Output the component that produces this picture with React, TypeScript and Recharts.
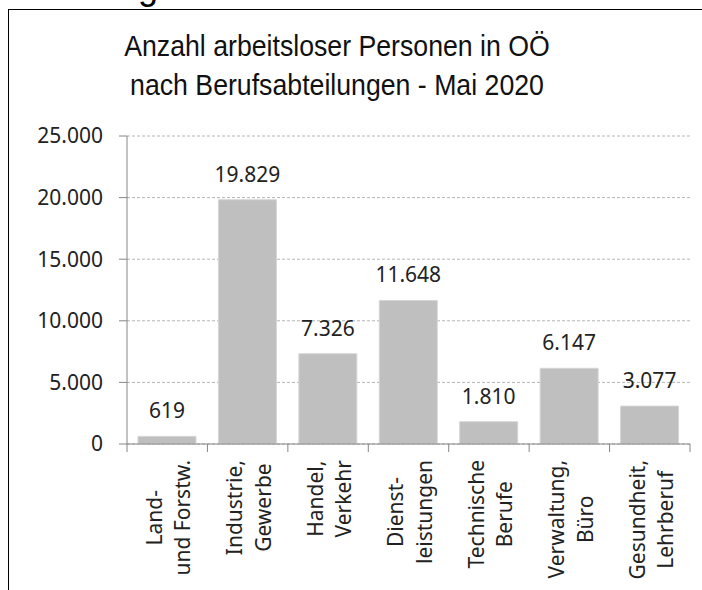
import React from 'react';
import { BarChart, Bar, XAxis, YAxis, CartesianGrid, LabelList } from 'recharts';

const categories = [
  'Land-\nund Forstw.',
  'Industrie,\nGewerbe',
  'Handel,\nVerkehr',
  'Dienst-\nleistungen',
  'Technische\nBerufe',
  'Verwaltung,\nBüro',
  'Gesundheit,\nLehrberuf',
];
const values = [619, 19829, 7326, 11648, 1810, 6147, 3077];
const yTicks = [0, 5000, 10000, 15000, 20000, 25000];
const titleLines = ['Anzahl arbeitsloser Personen in OÖ', 'nach Berufsabteilungen - Mai 2020'];

const data = categories.map((c, i) => ({ name: c, value: values[i] }));

const W = 702;
const H = 590;
const M = { top: 136, right: 12, bottom: 6, left: 47 };
const Y_AXIS_W = 80;
const X_AXIS_H = 140;
const PLOT_W = W - M.left - Y_AXIS_W - M.right;

const FONT = "'Noto Sans', sans-serif";
const TITLE_FONT = "'Liberation Sans', sans-serif";
const TXT = '#222';
const AXIS = '#868686';

const fmt = (v: any) => String(v).replace(/\B(?=(\d{3})+(?!\d))/g, '.');

let ctx: CanvasRenderingContext2D | null = null;
function measure(t: string): number {
  if (!ctx) ctx = document.createElement('canvas').getContext('2d');
  if (!ctx) return t.length * 11;
  ctx.font = "21px 'Noto Sans'";
  return ctx.measureText(t).width;
}

const XTick = (props: any) => {
  const { x, y, payload } = props;
  const index = props.index ?? payload.index ?? 0;
  const half = PLOT_W / categories.length / 2;
  const lines = String(payload.value).split('\n');
  const maxW = Math.max(...lines.map(measure));
  const cy = y + 16 + maxW / 2;
  return (
    <g>
      <line x1={x - half} x2={x - half} y1={y} y2={y + 8} stroke={AXIS} />
      {index === categories.length - 1 && (
        <line x1={x + half} x2={x + half} y1={y} y2={y + 8} stroke={AXIS} />
      )}
      <g transform={`translate(${x},${cy}) rotate(-90)`}>
        {lines.map((l, i) => (
          <text
            key={i}
            x={0}
            y={(i - (lines.length - 1) / 2) * 28.5 + 9}
            textAnchor="middle"
            fontSize={21}
            fontFamily={FONT}
            fill={TXT}
          >
            {l}
          </text>
        ))}
      </g>
    </g>
  );
};

export default function App() {
  return (
    <div style={{ position: 'relative', width: W, height: H, overflow: 'hidden', background: '#fff' }}>
      <style>{`body{margin:0;overflow:hidden;}`}</style>
      <div style={{ position: 'absolute', left: 138, top: 0, height: 8, overflow: 'hidden' }}>
        <div style={{ fontFamily: TITLE_FONT, fontSize: 36, lineHeight: '36px', marginTop: -31, color: '#000' }}>g</div>
      </div>
      <div style={{ position: 'absolute', left: 8, top: 9, width: W - 8, height: 1, background: '#000' }} />
      <div style={{ position: 'absolute', left: 8, top: 9, width: 1, height: H - 9, background: '#000' }} />
      <div
        style={{
          position: 'absolute',
          left: 37,
          top: 26.5,
          width: 600,
          textAlign: 'center',
          fontFamily: TITLE_FONT,
          fontSize: 29,
          lineHeight: '39px',
          color: '#111',
        }}
      >
        {titleLines.map((t, i) => (
          <div key={i} style={{ transform: 'scaleX(0.92)', transformOrigin: '50% 50%', whiteSpace: 'nowrap' }}>
            {t}
          </div>
        ))}
      </div>
      <div style={{ position: 'absolute', left: 0, top: 0 }}>
        <BarChart width={W} height={H} data={data} margin={M}>
          <CartesianGrid vertical={false} strokeDasharray="3 2" stroke="#b4b4b4" />
          <XAxis
            dataKey="name"
            interval={0}
            height={X_AXIS_H}
            tickLine={false}
            tickSize={0}
            tickMargin={0}
            axisLine={{ stroke: AXIS }}
            tick={<XTick />}
          />
          <YAxis
            width={Y_AXIS_W}
            domain={[0, 25000]}
            ticks={yTicks}
            tickFormatter={fmt}
            tickSize={8}
            tickMargin={16}
            axisLine={{ stroke: AXIS }}
            tickLine={{ stroke: AXIS }}
            tick={{ fontSize: 21, fontFamily: FONT, fill: TXT }}
          />
          <Bar dataKey="value" fill="#BFBFBF" stroke="#D6D6D6" barSize={58} isAnimationActive={false}>
            <LabelList
              dataKey="value"
              position="top"
              offset={18}
              formatter={fmt}
              fontSize={21}
              fontFamily={FONT}
              fill={TXT}
            />
          </Bar>
        </BarChart>
      </div>
    </div>
  );
}
